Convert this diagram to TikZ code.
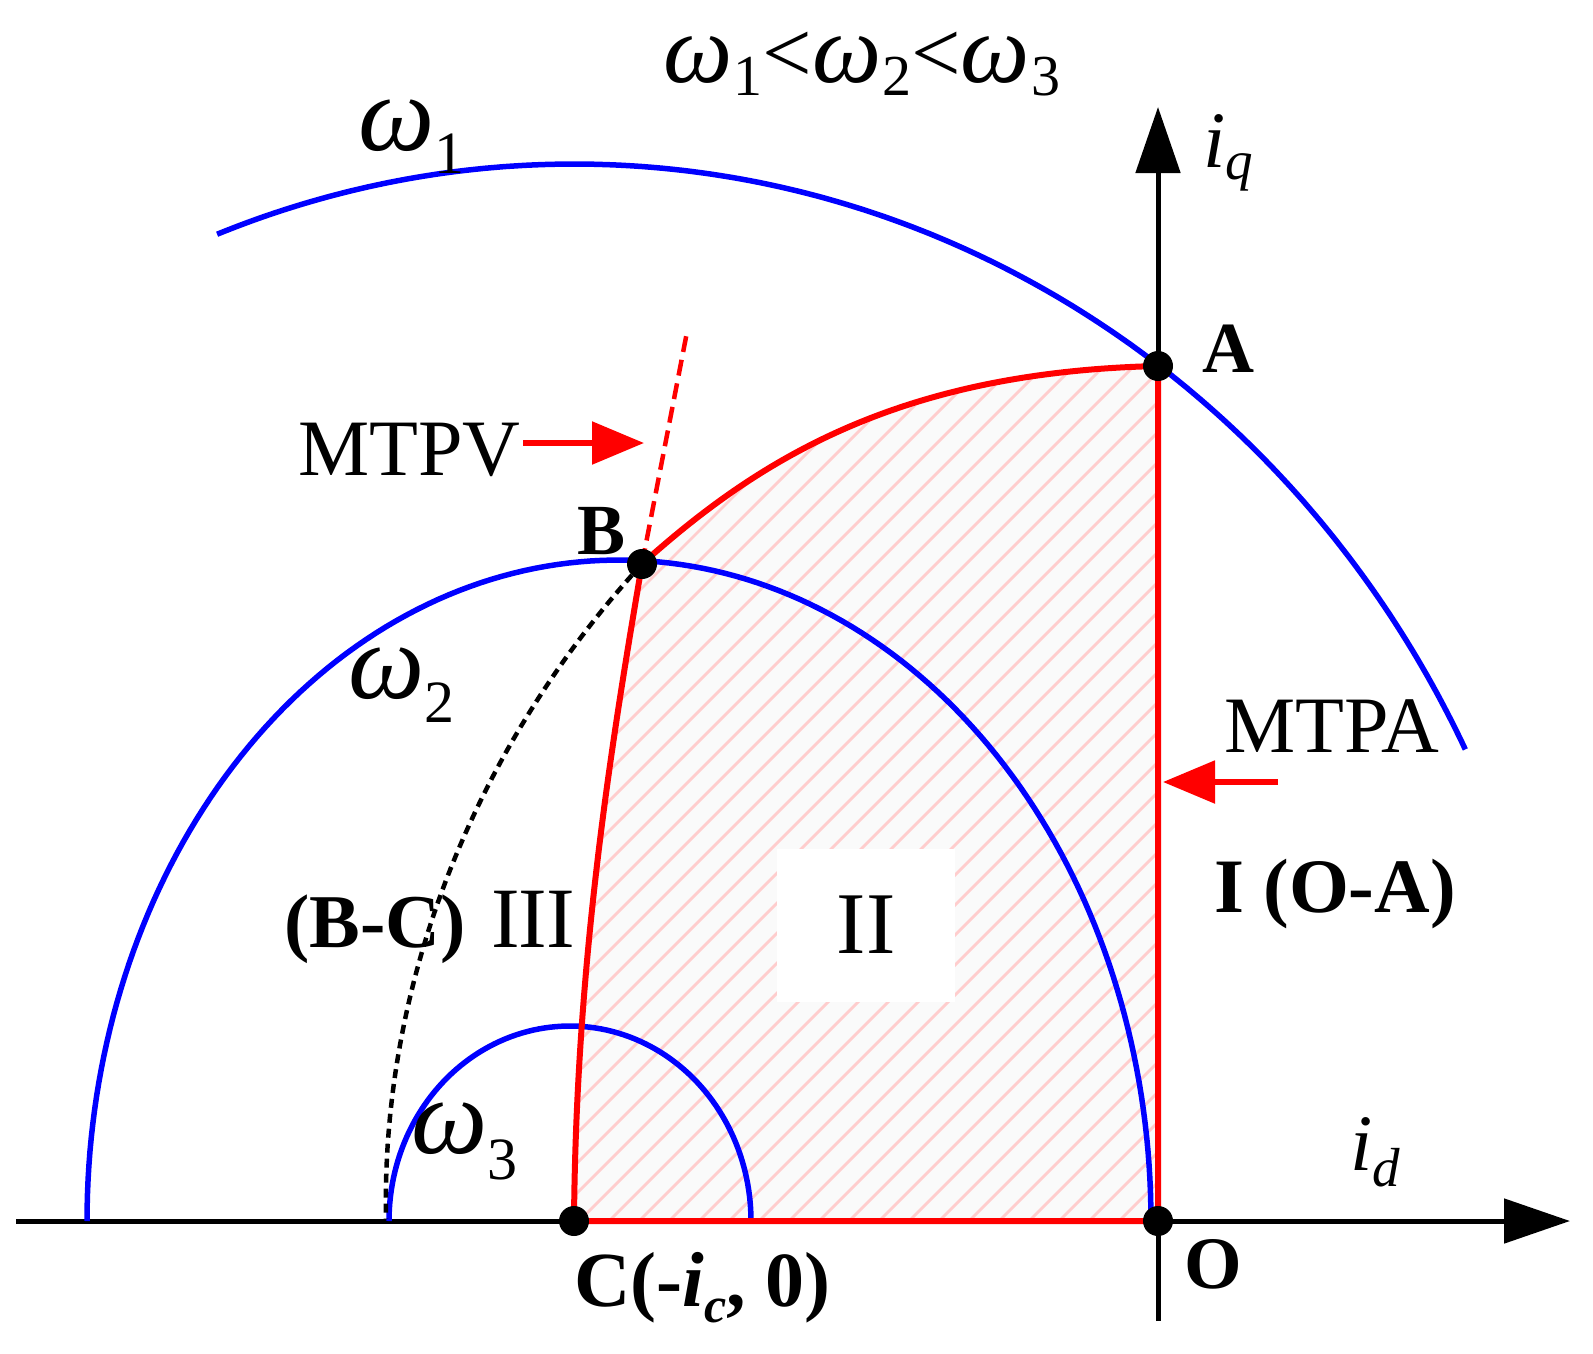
\documentclass[tikz,border=0pt]{standalone}
\usepackage{fontspec}
\setmainfont{Liberation Serif}
\usetikzlibrary{arrows.meta}
\definecolor{hatchpink}{RGB}{255,205,205}
\definecolor{regbg}{RGB}{250,250,250}
\newcommand{\fs}[1]{\fontsize{#1}{#1}\selectfont}
% \omsub{omega size}{sub size}{drop}{digit}{kern}
\newcommand{\omsub}[5]{{\fs{#1}\itshape ω}\kern#5\raisebox{-#3}{\fs{#2}#4}}
\def\regionpath{(1158,366) .. controls (900,372) and (760,458) .. (642,564) .. controls (612,740) and (576,960) .. (574,1221) -- (1158,1221) -- cycle}
\begin{document}
\begin{tikzpicture}[x=1pt,y=-1pt,
  blueline/.style={draw=blue, line width=5.5pt},
  redline/.style={draw=red, line width=6pt, line join=round},
  axisline/.style={draw=black, line width=5pt, -{Triangle[length=66pt,width=44pt]}},
  redarrow/.style={draw=red, line width=5.5pt, -{Triangle[length=52pt,width=42pt]}},
  dotnode/.style={circle, fill=black, inner sep=0pt, minimum size=30pt},
  lbl/.style={inner sep=0pt, anchor=base west},
  hatchline/.style={draw=hatchpink, line width=2.8pt}]
\useasboundingbox (0,0) rectangle (1593,1353);
% shaded region
\fill[regbg] \regionpath;
\begin{scope}
  \clip \regionpath;
  \foreach \k in {0,...,52} {
    \draw[hatchline] ({-340+30*\k},1240) -- ++(920,-920);
  }
\end{scope}
\node[fill=white, minimum width=178pt, minimum height=153pt, inner sep=0pt, font=\fs{88}] (II) at (866,925) {II};
% axes
\coordinate (xstart) at (16,1221);
\coordinate (xend) at (1570,1221);
\coordinate (ystart) at (1158,1321);
\coordinate (yend) at (1158,107);
\draw[axisline] (xstart) -- (xend);
\draw[axisline] (ystart) -- (yend);
% voltage limit ellipses
\draw[blueline] plot[domain=26.5:111, samples=150] ({574+996*cos(\x)},{1221-1057*sin(\x)});
\draw[blueline] plot[domain=0:180, samples=150] ({619+532*cos(\x)},{1221-661*sin(\x)});
\draw[blueline] plot[domain=0:180, samples=100] ({570+181*cos(\x)},{1221-195*sin(\x)});
% MTPV and B-C curve
\coordinate (Bpt) at (642,564);
\coordinate (mtpvend) at (687,332);
\coordinate (bcend) at (386,1219);
\draw[red, line width=4.5pt, dash pattern=on 16pt off 8pt] (Bpt) -- (mtpvend);
\draw[black, line width=4.5pt, dash pattern=on 9pt off 6pt] (Bpt) .. controls (488,732) and (381,965) .. (bcend);
% operating boundary
\draw[redline] \regionpath;
% dots
\node[dotnode] (dotA) at (1158,366) {};
\node[dotnode] (dotB) at (642,564) {};
\node[dotnode] (dotC) at (574,1221) {};
\node[dotnode] (dotO) at (1158,1221) {};
% arrows for MTPV / MTPA
\coordinate (mtpvtail) at (523,443);
\coordinate (mtpvtip) at (644,443);
\draw[redarrow] (mtpvtail) -- (mtpvtip);
\coordinate (mtpatail) at (1278,782);
\coordinate (mtpatip) at (1163,782);
\draw[redarrow] (mtpatail) -- (mtpatip);
% labels
\node[lbl] (top) at (663,82) {\omsub{98}{58}{13pt}{1}{1pt}{\fs{88}<}\omsub{98}{58}{13pt}{2}{1pt}{\fs{88}<}\omsub{98}{58}{13pt}{3}{1pt}};
\node[lbl] (w1) at (358,150) {\omsub{108}{60}{23pt}{1}{0pt}};
\node[lbl] (w2) at (348,698) {\omsub{108}{60}{24pt}{2}{0pt}};
\node[lbl] (w3) at (411,1153) {\omsub{108}{60}{26pt}{3}{0pt}};
\node[lbl] (iq) at (1203,167) {{\fs{80}\itshape i}\raisebox{-12pt}{\fs{55}\itshape q}};
\node[lbl] (id) at (1350,1170) {{\fs{80}\itshape i}\raisebox{-16pt}{\fs{55}\itshape d}};
\node[lbl, font=\fs{72}\bfseries] (Alab) at (1202,372) {A};
\node[lbl, font=\fs{72}\bfseries] (Blab) at (577,554) {B};
\node[lbl, font=\fs{74}\bfseries] (Olab) at (1184,1288) {O};
\node[lbl, font=\fs{78}\bfseries] (Clab) at (574,1306) {C(-{\itshape i}\raisebox{-16pt}{\fs{50}\itshape c}, 0)};
\node[lbl, font=\fs{77}] (IOA) at (1214,912) {\textbf{I (O-A)}};
\node[lbl, font=\fs{76}] (BC) at (284,947) {\textbf{(B-C)}\hspace{26pt}{\fs{86}I\kern-1.5pt I\kern-1.5pt I}};
\node[lbl, font=\fs{80}] (MTPV) at (298,475) {MTPV};
\node[lbl, font=\fs{80}] (MTPA) at (1224,752) {MTPA};
\end{tikzpicture}
\end{document}
